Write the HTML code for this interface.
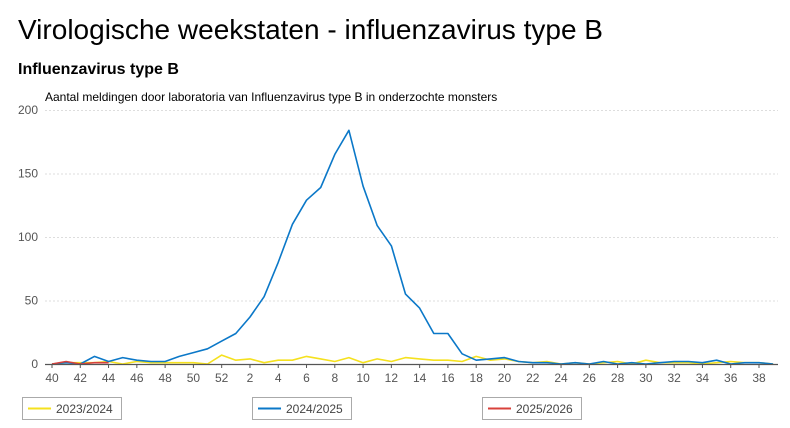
<!DOCTYPE html>
<html><head><meta charset="utf-8"><style>
body{margin:0;width:790px;height:423px;background:#fff;font-family:"Liberation Sans",sans-serif;overflow:hidden}
</style></head><body>
<svg id="s" width="790" height="423" xmlns="http://www.w3.org/2000/svg" font-family="Liberation Sans, sans-serif">
<text x="18" y="39" font-size="28" fill="#000" textLength="585" lengthAdjust="spacingAndGlyphs">Virologische weekstaten - influenzavirus type B</text>
<text x="18" y="74" font-size="16" font-weight="bold" fill="#000">Influenzavirus type B</text>
<text x="45" y="101" font-size="12" fill="#000">Aantal meldingen door laboratoria van Influenzavirus type B in onderzochte monsters</text>
<g id="grid"></g>
<g id="lines" fill="none" stroke-width="1.6" stroke-linejoin="round"></g>
<line x1="45" y1="364.5" x2="778" y2="364.5" stroke="#555" stroke-width="1.3"/>
<g font-size="12" fill="#444">
<rect x="22.5" y="397.5" width="99" height="22" fill="none" stroke="#aaa"/>
<line x1="28" y1="408.5" x2="51" y2="408.5" stroke="#f5e11e" stroke-width="2"/>
<text x="56" y="413">2023/2024</text>
<rect x="252.5" y="397.5" width="99" height="22" fill="none" stroke="#aaa"/>
<line x1="258" y1="408.5" x2="281" y2="408.5" stroke="#0b78c8" stroke-width="2"/>
<text x="286" y="413">2024/2025</text>
<rect x="482.5" y="397.5" width="99" height="22" fill="none" stroke="#aaa"/>
<line x1="488" y1="408.5" x2="511" y2="408.5" stroke="#d8413b" stroke-width="2"/>
<text x="516" y="413">2025/2026</text>
</g>
</svg>
<script>
const NS="http://www.w3.org/2000/svg",s=document.getElementById('s');
const g=document.getElementById('grid'),L=document.getElementById('lines');
function el(t,a,p,txt){const e=document.createElementNS(NS,t);for(const k in a)e.setAttribute(k,a[k]);if(txt!=null)e.textContent=txt;p.appendChild(e);return e;}
const y=v=>364-v*1.27, x=i=>52+i*14.14;
[0,50,100,150,200].forEach(v=>{
 if(v>0) el('line',{x1:45,x2:778,y1:y(v)+.5,y2:y(v)+.5,stroke:'#ddd','stroke-dasharray':'2,2'},g);
 el('text',{x:38,y:y(v)+4,'font-size':12,fill:'#555','text-anchor':'end'},g,v);
});
const wk=[];for(let w=40;w<=52;w++)wk.push(w);for(let w=1;w<=39;w++)wk.push(w);
wk.forEach((w,i)=>{if(w%2==0){el('line',{x1:x(i),x2:x(i),y1:364,y2:368,stroke:'#555'},g);el('text',{x:x(i),y:382,'font-size':12,fill:'#555','text-anchor':'middle'},g,w);}});
const Y=[0,1,1,1,2,0,2,1,1,1,1,0,7,3,4,1,3,3,6,4,2,5,1,4,2,5,4,3,3,2,6,3,4,2,1,2,0,1,0,1,2,0,3,1,1,1,0,1,2,1,1,0];
const B=[0,1,0,6,2,5,3,2,2,6,9,12,18,24,37,53,80,110,129,139,165,184,140,109,93,55,44,24,24,8,3,4,5,2,1,1,0,1,0,2,0,1,0,1,2,2,1,3,0,1,1,0];
const R=[0,2,0,1,1];
[[Y,'#f5e11e'],[B,'#0b78c8'],[R,'#d8413b']].forEach(([d,c])=>{
 el('polyline',{points:d.map((v,i)=>x(i).toFixed(1)+','+y(v).toFixed(1)).join(' '),stroke:c},L);
});
</script>
</body></html>
